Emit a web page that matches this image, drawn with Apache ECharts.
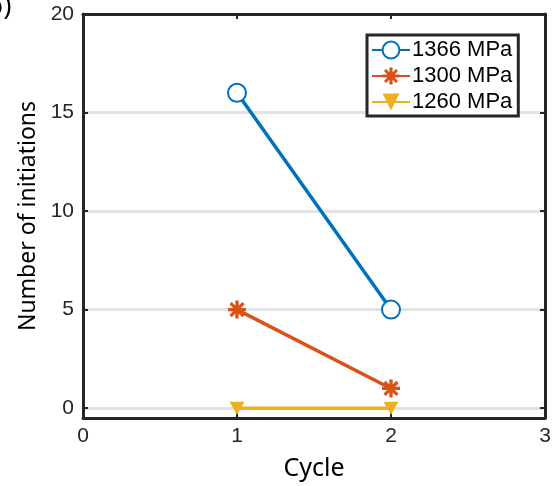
<!DOCTYPE html>
<html>
<head>
<meta charset="utf-8">
<script src="https://cdn.jsdelivr.net/npm/echarts@6/dist/echarts.min.js"></script>
<style>
    html, body { margin: 0; padding: 0; background: #fff; }
    #chart { width: 554px; height: 486px; }
</style>
</head>
<body>
<div id="chart"></div>
<script>
const cycles = [1, 2];
const series1366 = [16, 5];
const series1300 = [5, 1];
const series1260 = [0, 0];
const seriesNames = ['1366 MPa', '1300 MPa', '1260 MPa'];
const yTicks = [0, 5, 10, 15, 20];

// asterisk marker, four bars with the same winding
const asterisk = 'path://M-1.3,-7 L1.3,-7 L1.3,7 L-1.3,7 Z M-7,-1.3 L7,-1.3 L7,1.3 L-7,1.3 Z ' +
    'M-5.9,-4.1 L-4.1,-5.9 L5.9,4.1 L4.1,5.9 Z ' +
    'M4.1,-5.9 L5.9,-4.1 L-4.1,5.9 L-5.9,4.1 Z';

const axisColor = '#262626';
const tickFont = { fontFamily: 'Liberation Sans', fontSize: 21, color: '#262626' };
const titleFont = { fontFamily: 'Noto Sans', fontSize: 23, color: '#000' };

function pairs(values) {
    return cycles.map((c, i) => [c, values[i]]);
}

// mirrored axis on the far side of the box: ticks only
function mirrorAxis(extra) {
    return Object.assign({
        type: 'value',
        axisLine: { show: true, onZero: false, lineStyle: { color: axisColor, width: 3 } },
        axisTick: { show: true, inside: true, length: 5, lineStyle: { color: axisColor, width: 2 } },
        axisLabel: { show: false },
        splitLine: { show: false }
    }, extra);
}

const chart = echarts.init(document.getElementById('chart'), null, { renderer: 'canvas' });
const option = {
    animation: false,
    grid: { left: 83, right: 9, top: 14, bottom: 66, show: false },
    xAxis: [
        {
            type: 'value', min: 0, max: 3, interval: 1, position: 'bottom',
            name: 'Cycle', nameLocation: 'middle', nameGap: 38,
            nameTextStyle: Object.assign({}, titleFont, { fontSize: 25 }),
            axisLine: { show: true, onZero: false, lineStyle: { color: axisColor, width: 3 } },
            axisTick: { show: true, inside: true, length: 5, lineStyle: { color: axisColor, width: 2 } },
            axisLabel: Object.assign({ margin: 8 }, tickFont),
            splitLine: { show: false }
        },
        mirrorAxis({ min: 0, max: 3, interval: 1, position: 'top' })
    ],
    yAxis: [
        {
            type: 'value', min: -0.5, max: 20, position: 'left',
            name: 'Number of initiations', nameLocation: 'middle', nameGap: 34,
            nameTextStyle: titleFont,
            axisLine: { show: true, onZero: false, lineStyle: { color: axisColor, width: 3 } },
            axisTick: { show: true, inside: true, length: 5, customValues: yTicks, lineStyle: { color: axisColor, width: 2 } },
            axisLabel: Object.assign({ margin: 9, customValues: yTicks }, tickFont),
            splitLine: { show: true, lineStyle: { color: '#e3e3e3', width: 3 } }
        },
        mirrorAxis({
            min: -0.5, max: 20, position: 'right',
            axisTick: { show: true, inside: true, length: 5, customValues: yTicks, lineStyle: { color: axisColor, width: 2 } }
        })
    ],
    legend: {
        orient: 'vertical',
        left: 367, top: 35,
        data: seriesNames,
        itemWidth: 38, itemHeight: 21, itemGap: 4,
        padding: [4, 6, 3, 4],
        borderColor: axisColor, borderWidth: 3,
        backgroundColor: '#fff',
        textStyle: { fontFamily: 'Liberation Sans', fontSize: 22, color: '#000', padding: [0, 0, 0, -3] }
    },
    graphic: [
        { type: 'text', left: -14, top: -7, style: { text: 'b)', font: '28px "Open Sans"', fill: '#000' } }
    ],
    series: [
        {
            name: seriesNames[0], type: 'line', data: pairs(series1366),
            symbol: 'emptyCircle', symbolSize: 18,
            lineStyle: { color: '#0072BD', width: 3.5 },
            itemStyle: { color: '#0072BD', borderWidth: 3 }
        },
        {
            name: seriesNames[1], type: 'line', data: pairs(series1300),
            symbol: asterisk, symbolSize: 18,
            lineStyle: { color: '#D95319', width: 3.5 },
            itemStyle: { color: '#D95319' }
        },
        {
            name: seriesNames[2], type: 'line', data: pairs(series1260),
            symbol: 'triangle', symbolRotate: 180, symbolSize: [15, 13],
            lineStyle: { color: '#EDB120', width: 3.5 },
            itemStyle: { color: '#EDB120' }
        }
    ]
};
chart.setOption(option);
</script>
</body>
</html>
